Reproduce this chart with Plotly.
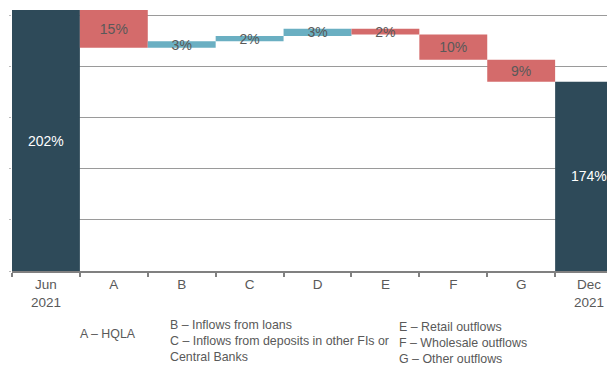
import plotly.graph_objects as go

categories = ["Jun<br>2021", "A", "B", "C", "D", "E", "F", "G", "Dec<br>2021"]
measures = ["absolute", "relative", "relative", "relative", "relative", "relative", "relative", "relative", "total"]
values = [202, -14.7, 2.5, 2.1, 2.8, -2.2, -9.9, -8.6, 0]
labels = ["202%", "15%", "3%", "2%", "3%", "2%", "10%", "9%", "174%"]

DARK = "#2E4A59"
RED = "#D46B6B"
TEAL = "#6AAFC2"
GREY_TXT = "#595959"
FONT = "Liberation Sans, Arial, sans-serif"
Y_MIN, Y_MAX = 100, 204

is_total = [m in ("absolute", "total") for m in measures]
bar_text = ["" if t else lab for t, lab in zip(is_total, labels)]

fig = go.Figure(go.Waterfall(
    x=categories,
    y=values,
    measure=measures,
    text=bar_text,
    textposition="inside",
    insidetextanchor="middle",
    textangle=0,
    constraintext="none",
    textfont=dict(family=FONT, size=14, color=GREY_TXT),
    increasing=dict(marker=dict(color=TEAL, line=dict(width=0))),
    decreasing=dict(marker=dict(color=RED, line=dict(width=0))),
    totals=dict(marker=dict(color=DARK, line=dict(width=0))),
    connector=dict(visible=False),
    width=1,
    hoverinfo="skip",
))

# labels of the total bars, centred on the visible part of each bar
running = 0
for cat, m, v, t, lab in zip(categories, measures, values, is_total, labels):
    if m == "absolute":
        running = v
    elif m == "relative":
        running += v
    if t:
        fig.add_annotation(
            x=cat, y=(Y_MIN + running) / 2, xref="x", yref="y",
            text=lab, showarrow=False,
            font=dict(family=FONT, size=14, color="white"),
        )

legend_blocks = [
    (78, 325, "A – HQLA"),
    (168, 316, "B – Inflows from loans<br>C – Inflows from deposits in other FIs or<br>Central Banks<br>D – Other inflows"),
    (397, 318, "E – Retail outflows<br>F – Wholesale outflows<br>G – Other outflows"),
]

W, H = 607, 365
ML, MR, MT, MB = 12, 0, 5, 94
for px, py, txt in legend_blocks:
    fig.add_annotation(
        x=(px - ML) / (W - ML - MR), y=-(py - (H - MB)) / (H - MT - MB),
        xref="paper", yref="paper", xanchor="left", yanchor="top",
        text=txt, showarrow=False, align="left",
        font=dict(family=FONT, size=12.4, color=GREY_TXT),
    )

fig.update_layout(
    width=W, height=H,
    margin=dict(l=ML, r=MR, t=MT, b=MB),
    paper_bgcolor="white", plot_bgcolor="white",
    showlegend=False,
    bargap=0,
    uniformtext=dict(minsize=14, mode="show"),
    font=dict(family=FONT, color=GREY_TXT),
    xaxis=dict(
        type="category",
        range=[-0.5, 8.264],
        showline=True, linecolor="#808080", linewidth=1.5,
        ticks="outside", tickson="boundaries", ticklen=4, tickcolor="#808080", tickwidth=1.5,
        tickfont=dict(size=13.5, color=GREY_TXT),
        showgrid=False,
    ),
    yaxis=dict(
        range=[Y_MIN, Y_MAX],
        dtick=20, tick0=100,
        showgrid=True, gridcolor="#9A9A9A", gridwidth=1,
        showticklabels=False,
        ticks="outside", ticklen=2, tickcolor="#BBBBBB",
        zeroline=False, showline=False,
    ),
)

fig.write_html("out.html")
